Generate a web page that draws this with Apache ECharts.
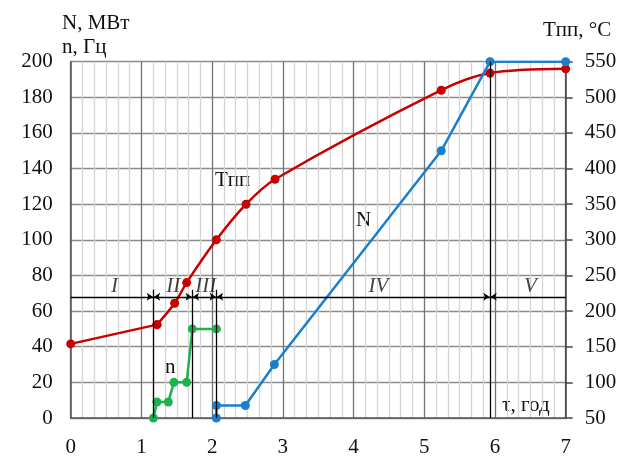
<!DOCTYPE html>
<html><head><meta charset="utf-8">
<script src="https://cdn.jsdelivr.net/npm/echarts@6/dist/echarts.min.js"></script>
<style>html,body{margin:0;padding:0;background:#fff}#c{width:631px;height:458px}</style>
</head><body><div id="c"></div>
<script>
// Data
const xTicks = [0,1,2,3,4,5,6,7];
const tppTau = [0, 1.22, 1.47, 1.64, 2.06, 2.48, 2.89, 5.24, 5.93, 7.0];
const tppVal = [154, 181, 211, 240, 300, 350, 385, 510, 534, 540];      // °C, right axis
const nTau   = [2.06, 2.06, 2.47, 2.88, 5.24, 5.93, 7.0];
const nVal   = [0, 7, 7, 30, 150, 200, 200];                            // N, MW
const fTau   = [1.17, 1.22, 1.38, 1.46, 1.64, 1.72, 2.06];
const fVal   = [0, 9, 9, 20, 20, 50, 50];                               // n, Hz
const stageBounds = [1.17, 1.72, 2.06, 5.93];
const stageTop = [72, 72, 72, 200];
const stageY = 68;
const stageNames = ['I','II','III','IV','V'];
const stageLabelX = [0.62, 1.45, 1.91, 4.35, 6.5];
const stageLabelY = 74;

const F = '"Liberation Serif", "Times New Roman", serif';
const chart = echarts.init(document.getElementById('c'));

const zip = (a,b) => a.map((v,i)=>[v,b[i]]);
const tpp = zip(tppTau, tppVal);

const mlData = [];
mlData.push([{coord:[0,stageY], symbol:'none'},{coord:[7,stageY], symbol:'none'}]);
stageBounds.forEach((b,i)=>{
  mlData.push([{coord:[b,0], symbol:'none'},{coord:[b,stageTop[i]], symbol:'none'}]);
  mlData.push([{coord:[b-0.09,stageY], symbol:'none'},{coord:[b-0.01,stageY], symbol:'arrow'}]);
  mlData.push([{coord:[b+0.09,stageY], symbol:'none'},{coord:[b+0.01,stageY], symbol:'arrow'}]);
});

const red = '#c80000';
chart.setOption({
  animation:false,
  backgroundColor:'#fff',
  grid:{left:70.7, right:65.3, top:61.7, bottom:39.7, containLabel:false},
  xAxis:{type:'value', min:0, max:7, interval:1,
    axisLine:{show:true, onZero:false, lineStyle:{color:'#555', width:1.5}},
    axisTick:{show:false},
    axisLabel:{color:'#111', fontFamily:F, fontSize:21, margin:19, formatter:v=>xTicks.includes(v)?String(v):''},
    splitLine:{show:true, lineStyle:{color:'#727272', width:1.3}},
    minorTick:{show:false, splitNumber:6},
    minorSplitLine:{show:true, lineStyle:{color:'#d4d4d4', width:1.3}}
  },
  yAxis:[
    {type:'value', min:0, max:200, interval:20, position:'left',
      axisLine:{show:true, lineStyle:{color:'#555', width:1.5}},
      axisTick:{show:false},
      axisLabel:{color:'#111', fontFamily:F, fontSize:21, margin:18},
      splitLine:{show:true, lineStyle:{color:'#8c8c8c', width:1.3}}
    },
    {type:'value', min:50, max:550, interval:50, position:'right',
      axisLine:{show:true, lineStyle:{color:'#444', width:1.5}},
      axisTick:{show:true, inside:false, length:7, lineStyle:{color:'#444', width:1.5}},
      axisLabel:{color:'#111', fontFamily:F, fontSize:21, margin:19},
      splitLine:{show:false}
    }
  ],
  series:[
    {type:'line', name:'stages', data:[], xAxisIndex:0, yAxisIndex:0,
      markLine:{silent:true, symbolSize:6, label:{show:false},
        lineStyle:{color:'#000', width:1.3, type:'solid'}, data:mlData}},
    {type:'line', name:'Tпп-a', yAxisIndex:1, data:tpp.slice(0,2),
      symbol:'circle', symbolSize:9, lineStyle:{color:red, width:2.5}, itemStyle:{color:red}},
    {type:'line', name:'Tпп', yAxisIndex:1, data:tpp.slice(1), smooth:0.3,
      symbol:'circle', symbolSize:9, lineStyle:{color:red, width:2.5}, itemStyle:{color:red}},
    {type:'line', name:'N', yAxisIndex:0, data:zip(nTau,nVal),
      symbol:'circle', symbolSize:9, lineStyle:{color:'#1a7fcc', width:2.5}, itemStyle:{color:'#1a7fcc'}},
    {type:'line', name:'n', yAxisIndex:0, data:zip(fTau,fVal),
      symbol:'circle', symbolSize:9, lineStyle:{color:'#1fb050', width:2.5}, itemStyle:{color:'#1fb050'}},
    {type:'scatter', name:'stageLabels', yAxisIndex:0, symbolSize:0, silent:true,
      data:stageNames.map((s,i)=>({value:[stageLabelX[i], stageLabelY], name:s})),
      label:{show:true, formatter:p=>p.name, position:'inside', fontFamily:F, fontStyle:'italic', fontSize:21, color:'#111'}}
  ],
  graphic:[
    {type:'text', left:62, top:13, style:{text:'N, МВт', font:'21px '+F, fill:'#111'}},
    {type:'text', left:62, top:37, style:{text:'n, Гц', font:'21px '+F, fill:'#111'}},
    {type:'text', left:543, top:20, style:{text:'Tпп, °C', font:'21px '+F, fill:'#111'}},
    {type:'text', left:215, top:170, style:{text:'Tпп', font:'21px '+F, fill:'#111'}},
    {type:'text', left:356, top:210, style:{text:'N', font:'21px '+F, fill:'#111'}},
    {type:'text', left:165, top:357, style:{text:'n', font:'21px '+F, fill:'#111'}},
    {type:'text', left:502, top:395, style:{text:'τ, год', font:'21px '+F, fill:'#111'}}
  ]
});
</script></body></html>
